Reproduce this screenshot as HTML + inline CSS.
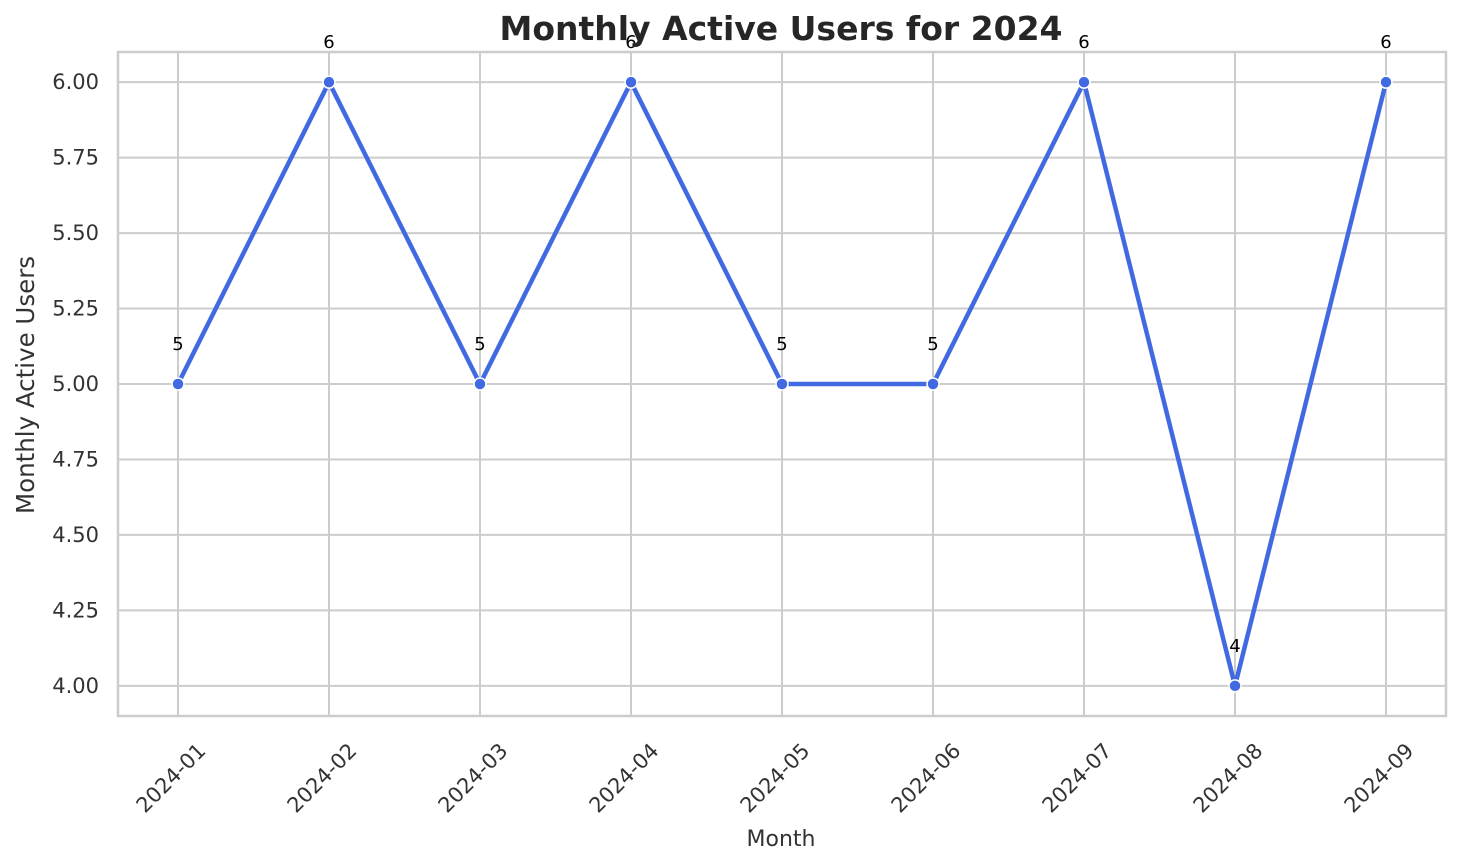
<!DOCTYPE html>
<html><head><meta charset="utf-8"><style>
body{margin:0;background:#fff;}
svg{display:block;font-family:"DejaVu Sans","Liberation Sans",sans-serif;}
</style></head><body>
<svg id="chart" width="1460" height="866">
<rect x="0" y="0" width="1460" height="866" fill="#fff"/>
<g id="grid"></g>
<rect x="118" y="52" width="1328" height="664" fill="none" stroke="#cccccc" stroke-width="2.5"/>
<g id="ticks"></g>
<g id="series"></g>
<text x="781" y="40" text-anchor="middle" font-size="33" font-weight="bold" fill="#262626">Monthly Active Users for 2024</text>
<text x="781" y="846" text-anchor="middle" font-size="22" fill="#333">Month</text>
<text transform="translate(34,385) rotate(-90)" text-anchor="middle" font-size="24.5" fill="#333">Monthly Active Users</text>
</svg>
<script>
const categories = ["2024-01","2024-02","2024-03","2024-04","2024-05","2024-06","2024-07","2024-08","2024-09"];
const values = [5,6,5,6,5,5,6,4,6];
const yTicks = [4.00,4.25,4.50,4.75,5.00,5.25,5.50,5.75,6.00];
const yMin = 3.9, yMax = 6.1;
const X0 = 178, XSTEP = 151;
const PT = 52, PB = 716;
function xs(i){return X0 + i*XSTEP;}
function ys(v){return PB - (v - yMin)/(yMax - yMin)*(PB-PT);}
const NS="http://www.w3.org/2000/svg";
function mk(tag, attrs, parent){const e=document.createElementNS(NS,tag);for(const k in attrs)e.setAttribute(k,attrs[k]);parent.appendChild(e);return e;}
const grid=document.getElementById('grid'), ticks=document.getElementById('ticks'), series=document.getElementById('series');
yTicks.forEach(t=>{
  const y=ys(t);
  const l=mk('line',{x1:118,x2:1446,y1:y,y2:y,stroke:'#cccccc','stroke-width':2},grid);
  
  
  const tx=mk('text',{x:99,y:y+7,'text-anchor':'end','font-size':21,fill:'#333'},ticks);
  tx.textContent=t.toFixed(2);
  
  
});
categories.forEach((c,i)=>{
  const x=xs(i);
  const l=mk('line',{x1:x,x2:x,y1:52,y2:716,stroke:'#cccccc','stroke-width':2},grid);
  
  
  const tx=mk('text',{transform:`translate(${x+29},${752}) rotate(-45)`,'text-anchor':'end','font-size':21,fill:'#333'},ticks);
  tx.textContent=c;
  
  
});
const pts=values.map((v,i)=>xs(i)+','+ys(v)).join(' ');
const pl=mk('polyline',{points:pts,fill:'none',stroke:'#4169E1','stroke-width':4.5,'stroke-linejoin':'round'},series);


values.forEach((v,i)=>{
  const c=mk('circle',{cx:xs(i),cy:ys(v),r:6,fill:'#4169E1',stroke:'#fff','stroke-width':1.5},series);
  
  
  const t=mk('text',{x:xs(i),y:ys(v)-34,'text-anchor':'middle','font-size':18,fill:'#000'},series);
  t.textContent=v;
  
  
});
</script>
</body></html>
